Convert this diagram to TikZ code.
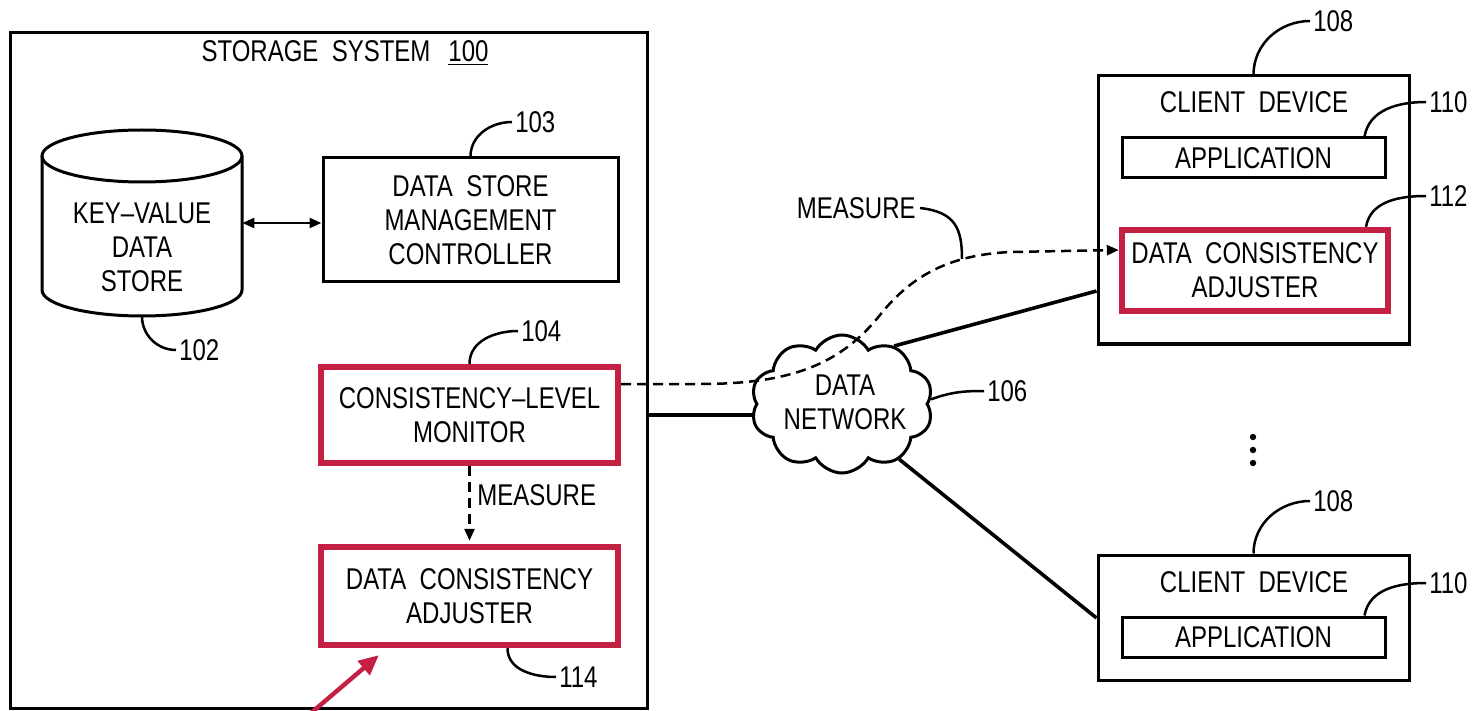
\documentclass[tikz,border=0pt]{standalone}
\usepackage{fontspec}
\setmainfont[FakeStretch=0.8,WordSpace=2]{Liberation Sans}
\usetikzlibrary{shapes.symbols,arrows.meta,fit,calc}
\definecolor{accent}{RGB}{196,32,68}

\begin{document}
\begin{tikzpicture}[x=0.5pt,y=-0.5pt,
  every node/.style={font=\fontsize{15}{17}\selectfont, inner sep=0pt},
  frame/.style={draw, line width=1.5pt, inner sep=0pt, fill=white},
  hot/.style={draw=accent, line width=3.2pt, inner sep=0pt, fill=white},
  txt/.style={align=center},
  leader/.style={line width=1.25pt},
  num/.style={anchor=west, xshift=1pt},
  link/.style={line width=1.8pt},
  dashlink/.style={line width=1.25pt, dash pattern=on 5pt off 3pt},
  tip/.style={-{Triangle[length=6pt,width=5pt]}},
  dot/.style={circle, fill, minimum size=3.2pt, inner sep=0pt}
]
\useasboundingbox (0,0) rectangle (1478,711);

% ---------- storage system ----------
\node[frame, fill=none, fit={(10,33)(647,708)}] (sys) {};
\node (systitle) at (345,53) {STORAGE SYSTEM\hspace{9pt}\underline{100}};

% key-value data store (cylinder)
\filldraw[fill=white, line width=1.5pt]
  (42,156) -- (42,290) arc[start angle=180, end angle=0, x radius=100, y radius=26] -- (242,156);
\draw[line width=1.5pt] (142,156) ellipse[x radius=100, y radius=26];
\node[fit={(42,130)(242,316)}] (kv) {};
\node[txt] (kvtext) at (142,247) {KEY–VALUE\\DATA\\STORE};

\node[frame, fit={(323,158)(618,282)}] (dsmc) {};
\node[txt] (dsmctext) at (dsmc.center) {DATA STORE\\MANAGEMENT\\CONTROLLER};
\node[hot, fit={(321,367)(618,463)}] (clm) {};
\node[txt] (clmtext) at (clm.center) {CONSISTENCY–LEVEL\\MONITOR};
\node[hot, fit={(321,547)(618,645)}] (dca) {};
\node[txt] (dcatext) at (dca.center) {DATA CONSISTENCY\\ADJUSTER};

\draw[line width=1.25pt, {Triangle[length=6pt,width=5pt]}-{Triangle[length=6pt,width=5pt]}]
  (kv.east) -- (kv.east -| dsmc.west);
\draw[dashlink, tip, shorten >=1.5pt] (clm.south) -- (dca.north);
\node[anchor=west] (measure1) at (477,495) {MEASURE};

% reference numerals, storage side
\draw[leader] (kv.south) to[out=-90,in=180] (176,350) node[num] {102};
\draw[leader] (dsmc.north) to[out=90,in=180] (512,122) node[num] {103};
\draw[leader] (clm.north) to[out=90,in=180] (518,331) node[num] {104};
\draw[leader] ($(dca.south)+(38,0)$) to[out=-90,in=180] (556,677) node[num] {114};

% pointer
\coordinate (pointer) at (311,713);
\draw[accent, line width=2.2pt, -{Triangle[length=10pt,width=9pt]}]
  (pointer) -- ($(dca.south west)+(61,7)$);

% ---------- data network ----------
\node[cloud, draw, line width=1.5pt, fill=white, cloud puffs=10, cloud puff arc=120,
      cloud ignores aspect, minimum width=91pt, minimum height=69pt]
  (net) at (842,404) {};
\node[txt] (nettext) at (845,402) {DATA\\NETWORK};
\draw[leader] (net.3) to[out=20,in=180] (984,391) node[num] {106};

\draw[link] (sys.east |- 0,415) -- (net.west |- 0,415);

% ---------- client devices ----------
\node[frame, fit={(1098,76)(1409,344)}] (cd1) {};
\node (cd1t) at (1254,102) {CLIENT DEVICE};
\node[frame, fit={(1122,138)(1385,178)}] (app1) {};
\node (app1text) at (app1.center) {APPLICATION};
\node[hot, fit={(1122,230)(1388,311)}] (dca1) {};
\node[txt] (dca1text) at (dca1.center) {DATA CONSISTENCY\\ADJUSTER};

\node[frame, fit={(1098,555)(1409,680)}] (cd2) {};
\node (cd2t) at (1254,582) {CLIENT DEVICE};
\node[frame, fit={(1122,617)(1385,657)}] (app2) {};
\node (app2text) at (app2.center) {APPLICATION};

\draw[leader] (cd1.north) to[out=90,in=180] (1310,21) node[num] {108};
\draw[leader] ($(app1.north)+(111,0)$) to[out=80,in=180] (1426,102) node[num] {110};
\draw[leader] ($(dca1.north)+(111,0)$) to[out=80,in=180] (1426,196) node[num] {112};
\draw[leader] (cd2.north) to[out=90,in=180] (1310,501) node[num] {108};
\draw[leader] ($(app2.north)+(111,0)$) to[out=80,in=180] (1426,583) node[num] {110};

\node[dot] (dot1) at (1253,437) {};
\node[dot] (dot2) at (1253,450) {};
\node[dot] (dot3) at (1253,463) {};

% network links
\draw[link] (net.48) -- (cd1.west |- 0,291);
\draw[link] (net.-44) -- (cd2.west |- 0,618);

% measurement path to the client adjuster
\draw[dashlink, tip] (clm.east |- 0,384) -- (700,384)
  .. controls (790,384) and (840,365) .. (880,315)
  .. controls (912,275) and (950,255) .. (1010,252)
  -- (dca1.west |- 0,250);
\node[anchor=east] (measure2) at (916,208) {MEASURE};
\draw[leader] ([xshift=2pt]measure2.east) .. controls (955,212) and (962,228) .. (962,259);
\end{tikzpicture}
\end{document}
